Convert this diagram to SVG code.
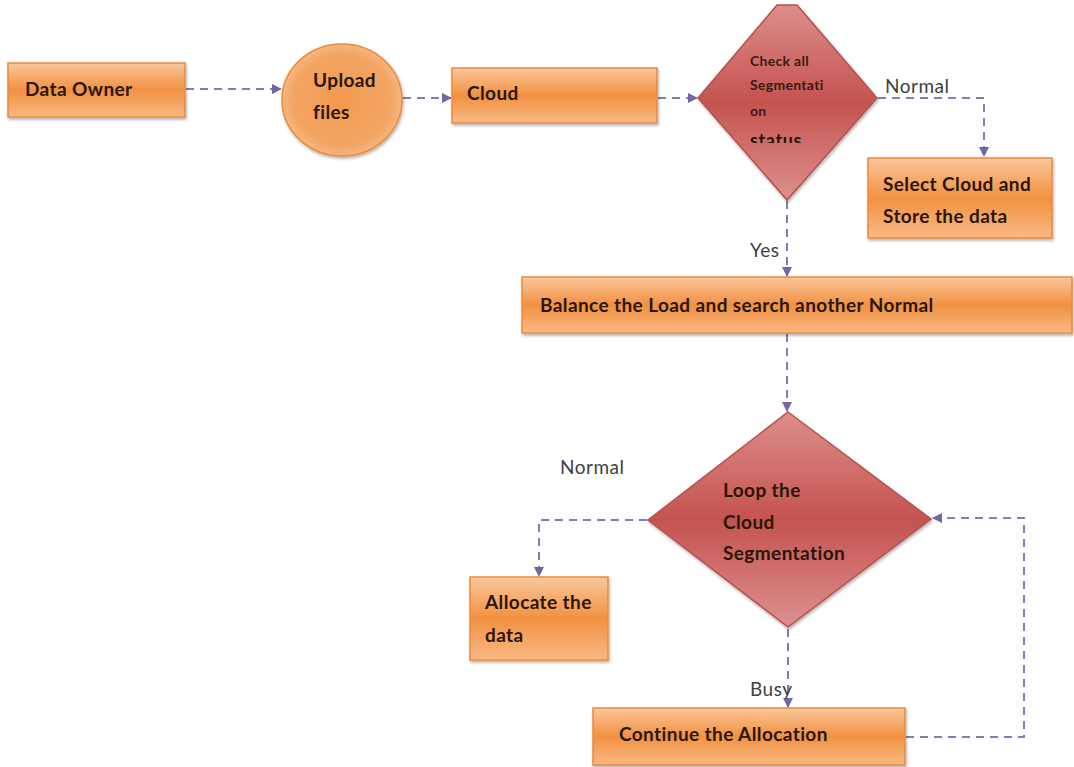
<svg xmlns="http://www.w3.org/2000/svg" width="1074" height="767" viewBox="0 0 1074 767">
<defs>
<linearGradient id="og" x1="0" y1="0" x2="0" y2="1">
<stop offset="0" stop-color="#fbc79c"/>
<stop offset="0.5" stop-color="#f19141"/>
<stop offset="1" stop-color="#f9b985"/>
</linearGradient>
<radialGradient id="cg" cx="0.5" cy="0.5" r="0.55">
<stop offset="0" stop-color="#f29a4e"/>
<stop offset="0.75" stop-color="#f3a564"/>
<stop offset="1" stop-color="#f8c08f"/>
</radialGradient>
<linearGradient id="rg" x1="0" y1="0" x2="0" y2="1">
<stop offset="0" stop-color="#dc8e8b"/>
<stop offset="0.5" stop-color="#c4534f"/>
<stop offset="1" stop-color="#dc918e"/>
</linearGradient>
<clipPath id="stclip">
<rect x="700" y="100" width="120" height="43"/>
</clipPath>
<filter id="sh" x="-10%" y="-10%" width="120%" height="130%">
<feDropShadow dx="1" dy="2" stdDeviation="1.5" flood-color="#000" flood-opacity="0.3"/>
</filter>
<marker id="ah" viewBox="0 0 10 10" refX="9" refY="5" markerWidth="10" markerHeight="10" markerUnits="userSpaceOnUse" orient="auto">
<path d="M0,0 L10,5 L0,10 z" fill="#7266a6"/>
</marker>
<style>
.box{fill:url(#og);stroke:#ec8a3a;stroke-width:1.5;filter:url(#sh)}
.dia{fill:url(#rg);stroke:#b9504c;stroke-width:1.5;filter:url(#sh)}
.t{font-family:Lato,"Liberation Sans",sans-serif;font-weight:bold;font-size:19px;letter-spacing:0.4px;fill:#2a1608}
.s{font-family:Lato,"Liberation Sans",sans-serif;font-weight:bold;font-size:14px;letter-spacing:0.3px;fill:#3a1a10}
.lb{font-family:Lato,"Liberation Sans",sans-serif;font-size:19px;letter-spacing:0.5px;fill:#404040}
.c{fill:none;stroke:#7f7fb3;stroke-width:2;stroke-dasharray:8,6;marker-end:url(#ah)}
</style>
</defs>

<g id="connectors">
<path class="c" d="M186,89 H281"/>
<path class="c" d="M403,98 H451"/>
<path class="c" d="M658,98 H697"/>
<path class="c" d="M878,98 H984 V156"/>
<path class="c" d="M787,201 V276"/>
<path class="c" d="M787,334 V411"/>
<path class="c" d="M647,520 H539 V576"/>
<path class="c" d="M788,629 V707"/>
<path class="c" d="M906,737 H1024 V518 H933"/>
</g>

<g id="data-owner">
<rect class="box" x="8" y="63" width="177" height="54"/>
<text class="t" x="25" y="96">Data Owner</text>
</g>

<g id="upload-files">
<ellipse cx="342" cy="100" rx="60" ry="56" fill="url(#cg)" stroke="#ec8a3a" stroke-width="1.5" filter="url(#sh)"/>
<text class="t" x="313" y="87">Upload</text>
<text class="t" x="313" y="119">files</text>
</g>

<g id="cloud">
<rect class="box" x="452" y="68" width="205" height="55"/>
<text class="t" x="467" y="100">Cloud</text>
</g>

<g id="check-status">
<polygon class="dia" points="777,5 797,5 877,98 787,200 698,98"/>
<text class="s" x="750" y="66">Check all</text>
<text class="s" x="750" y="90">Segmentati</text>
<text class="s" x="750" y="116">on</text>
<text class="t" x="750" y="147" clip-path="url(#stclip)" style="font-size:18px;letter-spacing:0.6px">status</text>
</g>

<g id="select-cloud">
<rect class="box" x="868" y="158" width="184" height="80"/>
<text class="t" x="883" y="191">Select Cloud and</text>
<text class="t" x="883" y="223">Store the data</text>
</g>

<g id="balance">
<rect class="box" x="522" y="277" width="550" height="56"/>
<text class="t" x="540" y="312">Balance the Load and search another Normal</text>
</g>

<g id="loop">
<polygon class="dia" points="788,412 931,519 788,627 648,520"/>
<text class="t" x="723" y="497">Loop the</text>
<text class="t" x="723" y="529">Cloud</text>
<text class="t" x="723" y="560">Segmentation</text>
</g>

<g id="allocate">
<rect class="box" x="470" y="577" width="138" height="83"/>
<text class="t" x="485" y="609">Allocate the</text>
<text class="t" x="485" y="642">data</text>
</g>

<g id="continue">
<rect class="box" x="593" y="708" width="312" height="57"/>
<text class="t" x="619" y="741">Continue the Allocation</text>
</g>

<g id="labels">
<text class="lb" x="885" y="93">Normal</text>
<text class="lb" x="750" y="257">Yes</text>
<text class="lb" x="560" y="474">Normal</text>
<text class="lb" x="750" y="696">Busy</text>
</g>
</svg>
